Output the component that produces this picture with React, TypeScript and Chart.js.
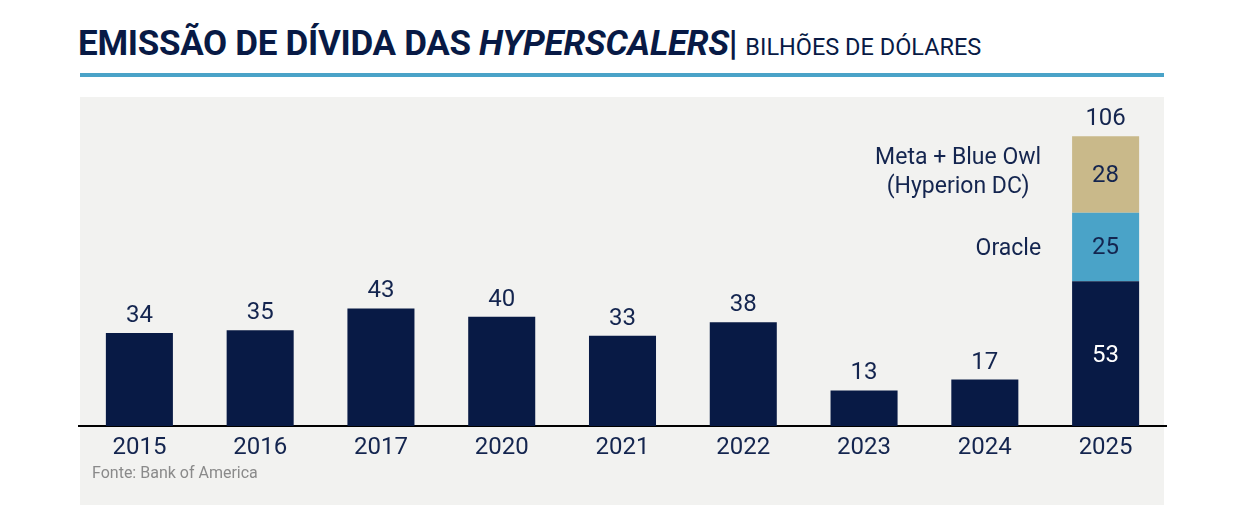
import React, { useEffect, useRef } from "react";
import { Chart, registerables } from "chart.js";

Chart.register(...registerables);

const categories = ["2015", "2016", "2017", "2020", "2021", "2022", "2023", "2024", "2025"];
const baseValues = [34, 35, 43, 40, 33, 38, 13, 17, 53];
const oracleValues = [null, null, null, null, null, null, null, null, 25];
const metaValues = [null, null, null, null, null, null, null, null, 28];
const totalValues = [34, 35, 43, 40, 33, 38, 13, 17, 106];
const seriesNames = ["Hyperscalers", "Oracle", "Meta + Blue Owl\n(Hyperion DC)"];

const NAVY = "#081a45";
const TEXT = "#14254f";
const BLUE = "#4aa3c8";
const GOLD = "#c9b98a";
const FONT = "Roboto, 'Open Sans', sans-serif";

const labelPlugin = {
  id: "labels",
  afterDatasetsDraw(chart: any) {
    const ctx = chart.ctx;
    ctx.save();
    ctx.font = `24px ${FONT}`;
    ctx.textBaseline = "middle";
    const last = categories.length - 1;
    const m0 = chart.getDatasetMeta(0);
    categories.forEach((_, i) => {
      const el = m0.data[i];
      if (!el) return;
      const stacked = oracleValues[i] != null || metaValues[i] != null;
      ctx.textAlign = "center";
      if (stacked) {
        ctx.fillStyle = "#ffffff";
        ctx.fillText(String(baseValues[i]), el.x, (el.y + el.base) / 2 + 2);
      } else {
        ctx.fillStyle = TEXT;
        ctx.fillText(String(baseValues[i]), el.x, el.y - 17);
      }
    });
    [1, 2].forEach((d) => {
      const meta = chart.getDatasetMeta(d);
      const vals = d === 1 ? oracleValues : metaValues;
      meta.data.forEach((el: any, i: number) => {
        const v = vals[i];
        if (v == null) return;
        const cy = (el.y + el.base) / 2;
        ctx.font = `24px ${FONT}`;
        ctx.textAlign = "center";
        ctx.fillStyle = TEXT;
        ctx.fillText(String(v), el.x, cy + 1);
        ctx.font = `23px ${FONT}`;
        const lines = seriesNames[d].split("\n");
        const lh = 29;
        const right = el.x - el.width / 2 - 31;
        const widths = lines.map((ln) => ctx.measureText(ln).width);
        const blockW = Math.max(...widths);
        const centerX = right - blockW / 2;
        ctx.textAlign = "center";
        lines.forEach((ln, k) => {
          const y = cy + (k - (lines.length - 1) / 2) * lh + (lines.length > 1 ? -2 : 2);
          ctx.fillText(ln, centerX, y);
        });
      });
    });
    const topEl = chart.getDatasetMeta(2).data[last];
    if (topEl) {
      ctx.font = `24px ${FONT}`;
      ctx.textAlign = "center";
      ctx.fillStyle = TEXT;
      ctx.fillText(String(totalValues[last]), topEl.x, topEl.y - 17);
    }
    ctx.restore();
  },
};

export default function App() {
  const ref = useRef<HTMLCanvasElement | null>(null);
  useEffect(() => {
    if (!ref.current) return;
    const chart = new Chart(ref.current, {
      type: "bar",
      data: {
        labels: categories,
        datasets: [
          { label: seriesNames[0], data: baseValues, backgroundColor: NAVY },
          { label: seriesNames[1], data: oracleValues as any, backgroundColor: BLUE },
          { label: seriesNames[2], data: metaValues as any, backgroundColor: GOLD },
        ],
      },
      options: {
        animation: false,
        responsive: false,
        maintainAspectRatio: false,
        layout: { padding: { left: 79, right: 74, top: 98, bottom: 0 } },
        datasets: { bar: { categoryPercentage: 1, barPercentage: 0.555, borderWidth: 0 } },
        plugins: { legend: { display: false }, tooltip: { enabled: false } },
        scales: {
          x: {
            stacked: true,
            grid: { display: false, drawTicks: false },
            border: { display: true, color: "#000000", width: 2 },
            ticks: { color: TEXT, font: { family: FONT, size: 24 }, padding: 8 },
            afterFit: (s: any) => {
              s.height = 104;
            },
          },
          y: { stacked: true, display: false, min: 0, max: 120 },
        },
      },
      plugins: [labelPlugin],
    });
    return () => chart.destroy();
  }, []);

  return (
    <div style={{ position: "absolute", left: 0, top: 0, width: 1240, height: 530, background: "#ffffff", overflow: "hidden" }}>
      <div style={{ position: "absolute", left: 78, top: 22, whiteSpace: "nowrap", color: NAVY, fontFamily: FONT, lineHeight: "44px" }}>
        <span style={{ fontWeight: 700, fontSize: 35, letterSpacing: -0.3 }}>
          EMISSÃO DE DÍVIDA DAS <i>HYPERSCALERS</i>|
        </span>
        <span style={{ fontWeight: 400, fontSize: 23.5, marginLeft: 8 }}>BILHÕES DE DÓLARES</span>
      </div>
      <div style={{ position: "absolute", left: 80, top: 73, width: 1084, height: 4, background: BLUE }} />
      <div style={{ position: "absolute", left: 80, top: 97, width: 1084, height: 408, background: "#f2f2f0" }} />
      <canvas ref={ref} width={1240} height={530} style={{ position: "absolute", left: 0, top: 0, width: 1240, height: 530 }} />
      <div style={{ position: "absolute", left: 92, top: 463, fontFamily: FONT, fontSize: 16, color: "#8a8a8a" }}>
        Fonte: Bank of America
      </div>
    </div>
  );
}
